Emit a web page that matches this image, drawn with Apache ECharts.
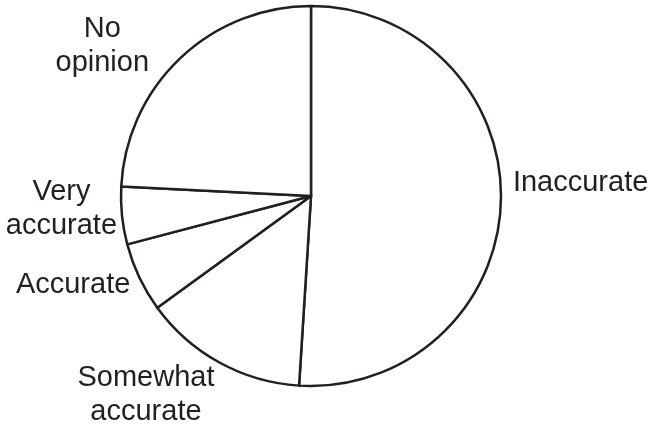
<!DOCTYPE html>
<html>
<head>
<meta charset="utf-8">
<script src="https://cdn.jsdelivr.net/npm/echarts@6/dist/echarts.min.js"></script>
<style>html,body{margin:0;padding:0;background:#fff;}#c{width:652px;height:430px;}</style>
</head>
<body>
<div id="c"></div>
<script>
const categories = ['Inaccurate', 'Somewhat\naccurate', 'Accurate', 'Very\naccurate', 'No\nopinion'];
const values = [51.0, 14.0, 5.9, 4.9, 24.2];

// small layout nudges applied to ECharts' own outside-label positions
const labelNudge = [[7, -19], [0, 33], [-4, 8], [0, -7], [-26, -12]];

const chart = echarts.init(document.getElementById('c'), null, {renderer: 'canvas'});
chart.setOption({
  animation: false,
  backgroundColor: '#ffffff',
  series: [{
    type: 'pie',
    center: [311, 196],
    radius: 190,
    startAngle: 90,
    clockwise: true,
    avoidLabelOverlap: false,
    itemStyle: {color: '#ffffff', borderColor: '#231f20', borderWidth: 2.5},
    label: {
      show: true,
      position: 'outside',
      color: '#231f20',
      fontFamily: 'Liberation Sans, Arial, Helvetica, sans-serif',
      fontSize: 29,
      lineHeight: 34
    },
    labelLine: {show: false, length: 0, length2: 0},
    labelLayout: function (p) {
      const r = p.labelRect;
      const n = labelNudge[p.dataIndex];
      return {
        x: r.x + r.width / 2 + n[0],
        y: r.y + r.height / 2 + n[1],
        align: 'center',
        verticalAlign: 'middle'
      };
    },
    emphasis: {disabled: true},
    data: categories.map((c, i) => ({name: c, value: values[i]}))
  }]
});
</script>
</body>
</html>
